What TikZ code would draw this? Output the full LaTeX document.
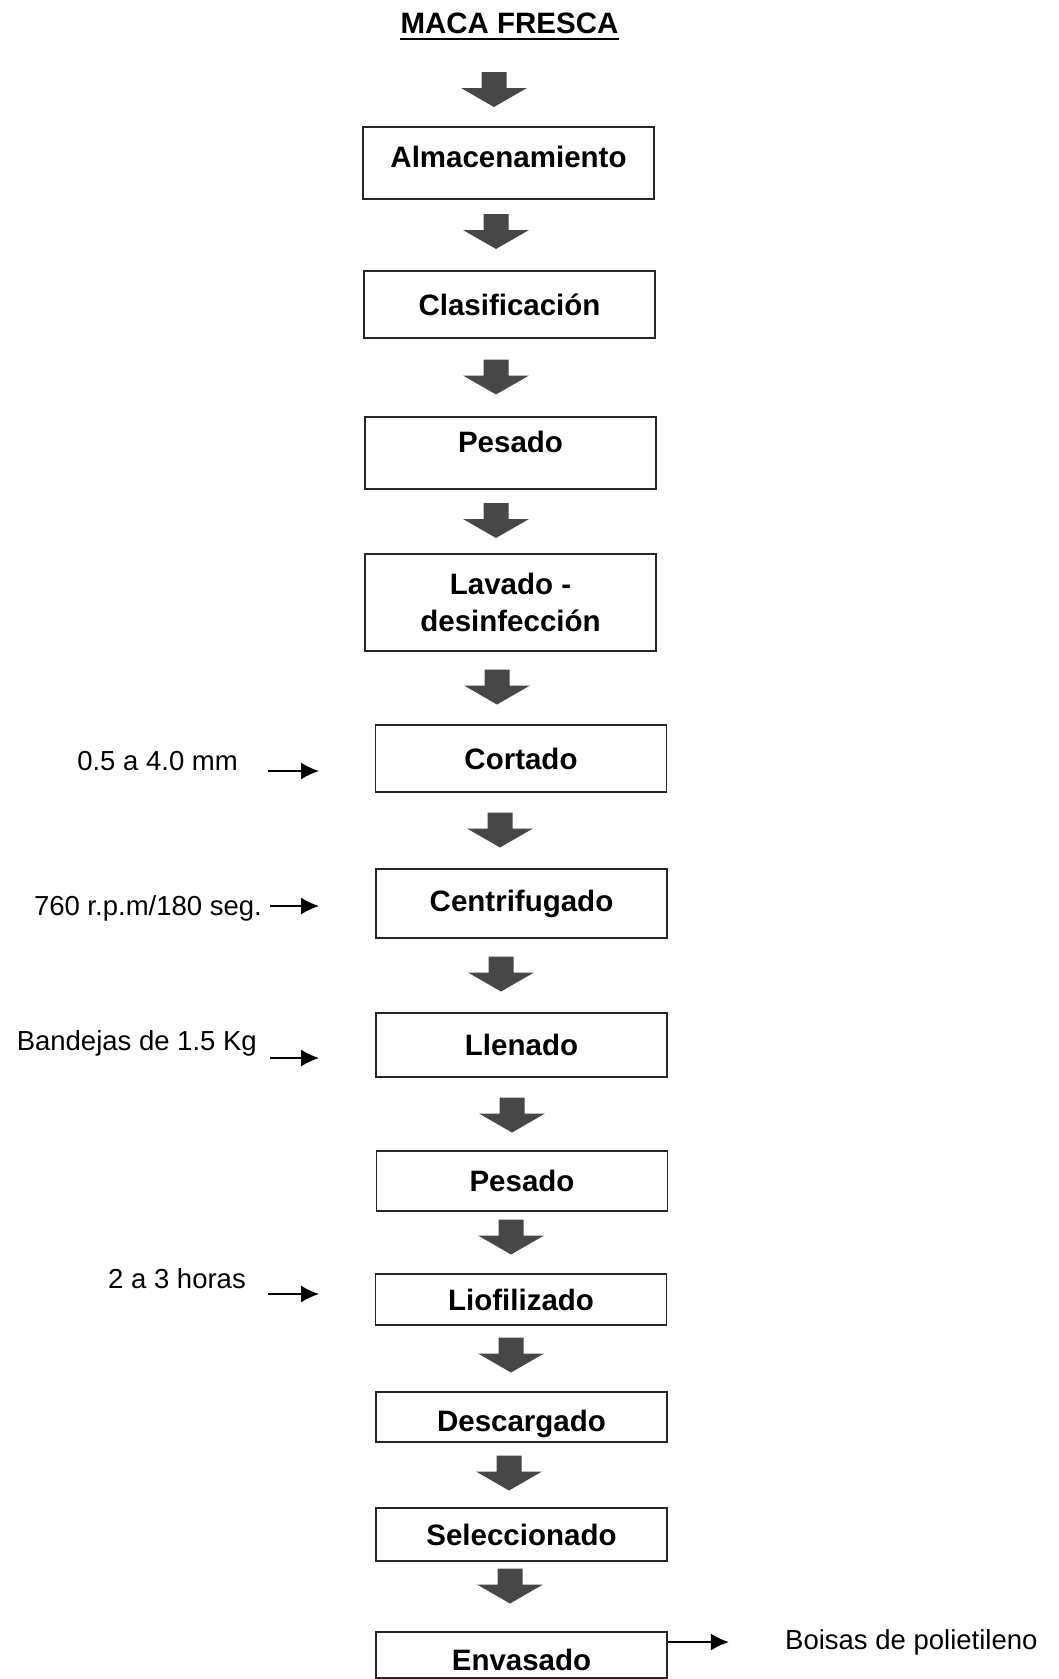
\documentclass[tikz,border=0pt]{standalone}
\usepackage{fontspec}
\setmainfont{Liberation Sans}
\usetikzlibrary{arrows.meta}
\begin{document}
\begin{tikzpicture}[x=1pt,y=-1pt,
  stage/.style={draw=black!85,line width=1.7pt,minimum width=291pt,inner sep=0pt,
    align=center,font=\fontsize{29.5}{37}\selectfont\bfseries},
  note/.style={inner sep=0pt,font=\fontsize{27.5}{33}\selectfont},
  feed/.style={line width=1.6pt,-{Latex[length=18pt,width=17pt]}},
  blockdown/.pic={\fill[black!72] (-12.5,-17.5) -- (12.5,-17.5) -- (12.5,-1.5)
    -- (33,-1.5) -- (0,17.5) -- (-33,-1.5) -- (-12.5,-1.5) -- cycle;}]
 \useasboundingbox (0,0) rectangle (1059,1679);
 % title
 \node[inner sep=0pt,font=\fontsize{29.5}{34}\selectfont\bfseries] (title) at (509.5,23) {MACA FRESCA};
 \draw[line width=2.2pt] ([yshift=-5.5pt]title.south west) -- ([yshift=-5.5pt]title.south east);
 % stages
 \node[stage,minimum height=72pt,text depth=13pt] (b1) at (508.5,163) {Almacenamiento};
 \node[stage,minimum height=67pt] (b2) at (509.5,304.5) {Clasificación};
 \node[stage,minimum height=72pt,text depth=23pt] (b3) at (510.5,453) {Pesado};
 \node[stage,minimum height=97pt] (b4) at (510.5,602.5) {Lavado -\\desinfección};
 \node[stage,minimum height=67pt] (b5) at (521,758.5) {Cortado};
 \node[stage,minimum height=69pt] (b6) at (521.5,903.5) {Centrifugado};
 \node[stage,minimum height=64pt] (b7) at (521.5,1045) {Llenado};
 \node[stage,minimum height=60pt] (b8) at (522,1181) {Pesado};
 \node[stage,minimum height=51pt] (b9) at (521,1299.5) {Liofilizado};
 \node[stage,minimum height=50pt,text height=34.5pt] (b10) at (521.5,1417) {Descargado};
 \node[stage,minimum height=53pt] (b11) at (521.5,1534.5) {Seleccionado};
 \node[stage,minimum height=46pt,text height=32pt] (b12) at (521.5,1655) {Envasado};
 % block arrows between stages
 \foreach \ax/\ay in {494/89.5,496/231.5,496/377,496/520.5,497/687,500/830,
   501/974,512/1115,511/1237,511/1355,509/1473,510/1586}
   \pic at (\ax,\ay) {blockdown};
 % process conditions
 \node[note,anchor=east] (n1) at (238,761) {0.5 a 4.0 mm};
 \node[note,anchor=east] (n2) at (262,908) {760 r.p.m/180 seg.};
 \node[note,anchor=east] (n3) at (257,1043) {Bandejas de 1.5 Kg};
 \node[note,anchor=east] (n4) at (246,1279) {2 a 3 horas};
 \draw[feed] (n1.east) ++(30,10) -- ++(51,0);
 \draw[feed] (n2.east) ++(8,-2) -- ++(49,0);
 \draw[feed] (n3.east) ++(13,15) -- ++(49,0);
 \draw[feed] (n4.east) ++(22,15) -- ++(51,0);
 \node[note,anchor=west] (n5) at (785,1642) {Boisas de polietileno};
 \draw[feed] ([yshift=13pt]b12.east) -- ++(61,0);
\end{tikzpicture}
\end{document}
